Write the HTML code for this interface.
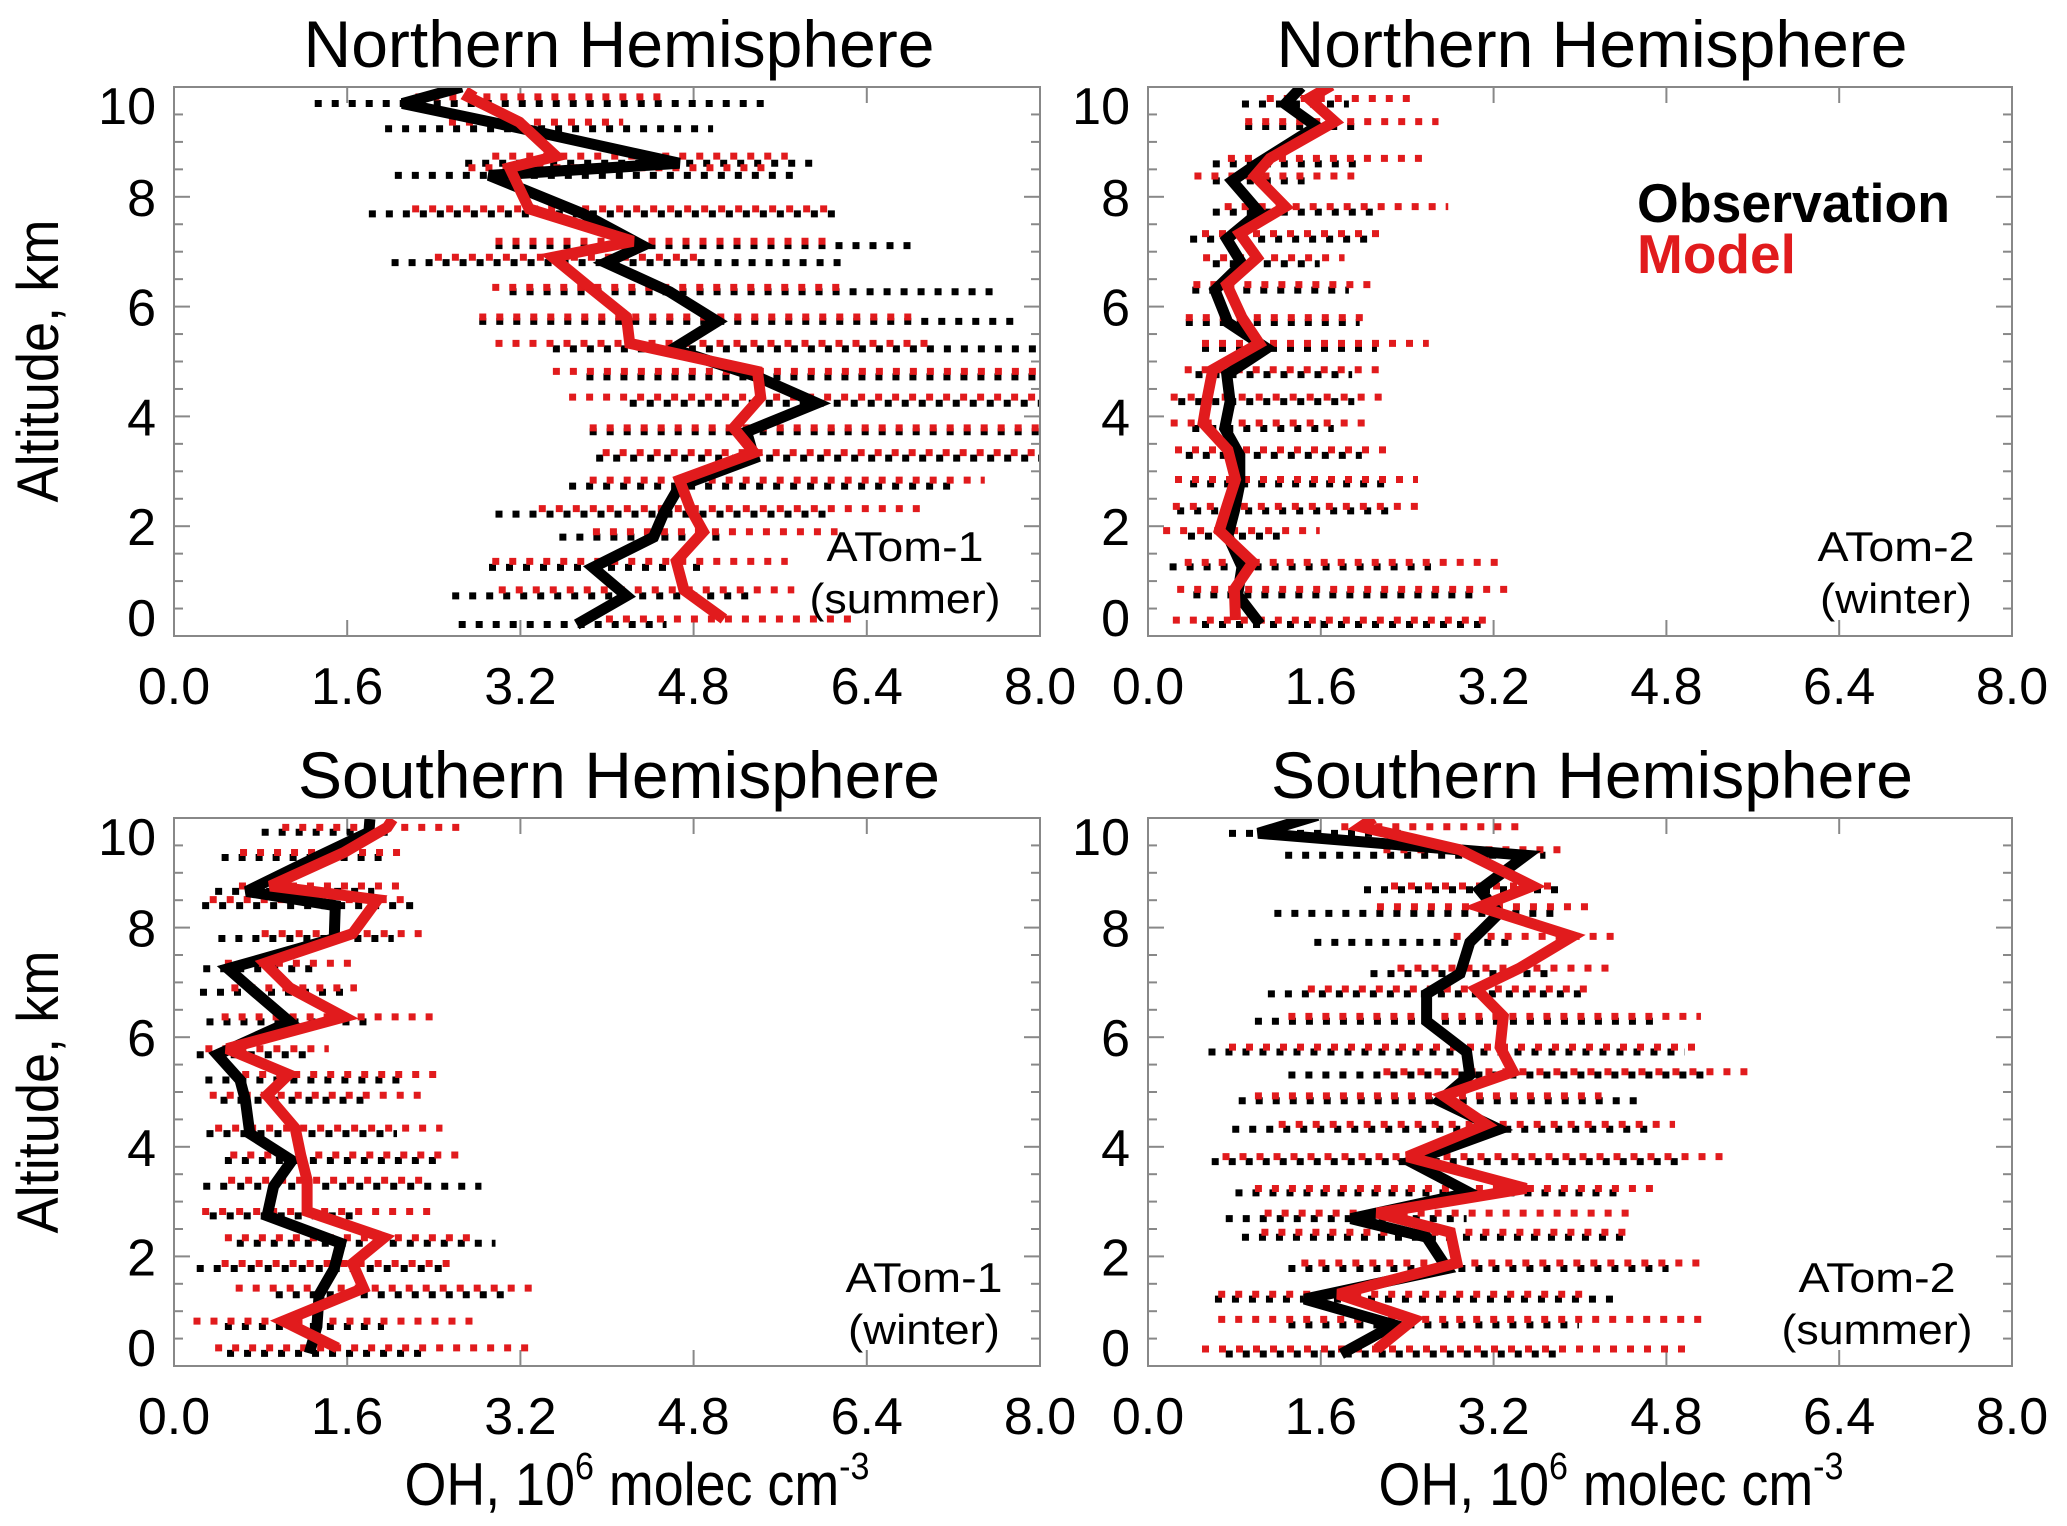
<!DOCTYPE html>
<html><head><meta charset="utf-8"><style>
html,body{margin:0;padding:0;background:#fff;}
svg{display:block;font-family:"Liberation Sans",Arial,sans-serif;}
</style></head><body>
<svg id="chart" width="2067" height="1526" viewBox="0 0 2067 1526" xmlns="http://www.w3.org/2000/svg"></svg>
<script>
// ---------- data: Northern Hemisphere, ATom-1 (summer) ----------
const tlObsAlt  = [10.0,9.70,9.24,8.61,8.39,7.69,7.11,6.80,6.27,5.73,5.23,4.72,4.24,3.72,3.24,2.73,2.22,1.80,1.25,0.73,0.21];
const tlObsMean = [2.66,2.11,3.22,4.67,2.91,3.78,4.33,3.99,4.58,5.02,4.61,5.39,5.94,5.29,5.36,4.67,4.52,4.43,3.87,4.18,3.72];
const tlObsLo   = [null,1.30,1.95,2.69,2.04,1.80,2.97,2.01,3.10,2.82,3.50,3.81,4.21,3.84,3.90,3.65,2.97,3.56,2.91,2.57,2.63];
const tlObsHi   = [null,5.51,4.98,5.94,5.76,6.16,6.81,6.19,7.62,7.77,8.50,8.50,8.50,8.50,8.50,7.24,6.07,5.08,4.86,5.36,4.55];
const tlModAlt  = [9.95,9.82,9.36,8.74,8.53,7.78,7.19,6.90,6.35,5.81,5.33,4.82,4.35,3.79,3.34,2.84,2.32,1.90,1.36,0.84,0.31];
const tlModMean = [2.76,2.72,3.19,3.53,3.10,3.28,4.24,3.50,3.84,4.18,4.21,5.39,5.42,5.17,5.36,4.67,4.77,4.89,4.64,4.71,5.08];
const tlModLo   = [null,2.23,2.54,2.94,2.72,2.20,2.97,2.41,2.94,2.82,2.97,3.50,3.65,3.84,3.96,3.84,3.37,3.87,2.94,3.00,3.99];
const tlModHi   = [null,4.58,4.15,5.67,5.51,6.07,6.07,4.86,6.19,6.87,7.03,8.50,8.50,8.50,8.50,7.49,6.93,6.13,5.67,5.73,6.32];
// ---------- Northern Hemisphere, ATom-2 (winter) ----------
const trObsAlt  = [10.0,9.69,9.28,8.60,8.29,7.72,7.23,6.78,6.30,5.71,5.24,4.76,4.27,3.78,3.29,2.77,2.28,1.82,1.26,0.75,0.21];
const trObsMean = [1.42,1.27,1.56,1.01,0.78,1.03,0.73,0.87,0.62,0.74,1.10,0.73,0.76,0.71,0.85,0.85,0.80,0.74,0.87,0.83,1.04];
const trObsLo   = [null,0.87,0.90,0.60,0.60,0.60,0.39,0.60,0.41,0.35,0.50,0.44,0.28,0.41,0.35,0.39,0.27,0.37,0.20,0.42,0.50];
const trObsHi   = [null,1.86,1.96,1.93,1.45,2.09,2.04,1.59,1.86,1.96,2.12,1.89,1.91,1.72,1.98,2.20,2.23,1.22,2.62,3.01,3.08];
const trModAlt  = [10.03,9.79,9.37,8.70,8.38,7.82,7.33,6.89,6.40,5.80,5.33,4.85,4.35,3.88,3.39,2.85,2.36,1.92,1.34,0.85,0.29];
const trModMean = [1.70,1.49,1.73,1.13,0.99,1.27,0.85,1.01,0.73,0.87,1.03,0.60,0.55,0.51,0.74,0.81,0.73,0.66,0.97,0.80,0.81];
const trModLo   = [null,1.10,0.90,0.74,0.43,0.71,0.50,0.51,0.42,0.35,0.50,0.34,0.21,0.21,0.25,0.25,0.23,0.14,0.34,0.27,0.23];
const trModHi   = [null,2.44,2.69,2.55,1.91,2.78,2.14,1.82,2.07,2.02,2.60,2.14,2.20,2.02,2.23,2.50,2.53,1.59,3.26,3.35,3.17];
// ---------- Southern Hemisphere, ATom-1 (winter) ----------
const blObsAlt  = [9.98,9.74,9.28,8.66,8.40,7.80,7.25,6.82,6.28,5.68,5.22,4.85,4.24,3.75,3.28,2.74,2.24,1.78,1.30,0.72,0.23];
const blObsMean = [1.81,1.80,1.31,0.67,1.49,1.48,0.50,0.75,1.07,0.40,0.61,0.66,0.70,1.09,0.92,0.86,1.54,1.48,1.34,1.32,1.25];
const blObsLo   = [null,0.81,0.44,0.38,0.26,0.41,0.27,0.24,0.30,0.21,0.29,0.43,0.30,0.47,0.27,0.33,0.58,0.21,0.94,0.47,0.49];
const blObsHi   = [null,1.99,1.94,1.85,2.23,2.03,1.29,1.57,1.79,1.23,2.09,1.75,2.06,2.43,2.84,1.65,2.97,2.50,3.05,1.94,2.31];
const blModAlt  = [9.98,9.83,9.37,8.76,8.51,7.89,7.35,6.90,6.37,5.79,5.32,4.94,4.34,3.85,3.39,2.82,2.34,1.87,1.42,0.82,0.33];
const blModMean = [2.02,1.97,1.57,0.89,1.88,1.65,0.84,1.07,1.57,0.49,1.06,0.86,1.12,1.17,1.23,1.23,1.94,1.65,1.75,1.01,1.51];
const blModLo   = [null,1.00,0.61,0.60,0.33,0.81,0.47,0.53,0.44,0.29,0.63,0.33,0.38,0.52,0.50,0.26,0.47,0.44,0.57,0.18,0.38];
const blModHi   = [null,2.68,2.11,2.08,2.16,2.31,1.65,1.69,2.43,1.43,2.43,2.30,2.48,2.65,2.34,2.39,2.76,2.59,3.33,2.79,3.28];
// ---------- Southern Hemisphere, ATom-2 (summer) ----------
const brObsAlt  = [10.05,9.72,9.32,8.69,8.26,7.73,7.16,6.79,6.29,5.73,5.31,4.84,4.32,3.73,3.16,2.69,2.35,1.78,1.22,0.75,0.22];
const brObsMean = [1.57,1.02,3.50,3.07,3.25,2.98,2.89,2.58,2.58,2.95,2.98,2.70,3.25,2.43,2.98,1.88,2.58,2.77,1.45,2.28,1.79];
const brObsLo   = [null,0.75,1.27,2.00,1.17,1.54,2.06,1.11,0.99,0.56,1.30,0.84,0.78,0.59,0.81,0.72,0.87,1.30,0.62,1.30,0.72];
const brObsHi   = [null,2.34,3.68,3.81,3.81,3.38,3.75,4.05,4.73,4.97,5.18,4.54,4.66,4.91,4.39,2.95,4.45,4.82,4.33,3.99,3.81];
const brModAlt  = [10.0,9.84,9.42,8.76,8.38,7.84,7.26,6.88,6.38,5.82,5.37,4.93,4.41,3.82,3.24,2.79,2.44,1.88,1.31,0.85,0.31];
const brModMean = [2.09,1.97,2.89,3.56,3.07,3.93,3.44,3.04,3.29,3.26,3.38,2.74,3.13,2.40,3.50,2.12,2.80,2.86,1.76,2.46,2.12];
const brModLo   = [null,1.79,2.18,2.25,2.12,2.83,2.31,1.48,1.30,0.75,2.18,0.99,1.21,0.69,0.99,1.08,1.05,1.42,0.65,0.65,0.50];
const brModHi   = [null,3.44,3.84,3.78,4.11,4.33,4.30,4.11,5.12,5.15,5.55,4.20,4.88,5.34,4.72,4.48,4.45,5.15,4.02,5.15,5.03];
// ---------- axis ticks ----------
const xTickVals   = [0, 1.6, 3.2, 4.8, 6.4, 8.0];
const xTickLabels = ["0.0","1.6","3.2","4.8","6.4","8.0"];
const yTickVals   = [0, 2, 4, 6, 8, 10];
const yTickLabels = ["0","2","4","6","8","10"];

const NS = "http://www.w3.org/2000/svg";
const svg = document.getElementById("chart");
function mk(tag, attrs, parent) {
  const e = document.createElementNS(NS, tag);
  for (const k in attrs) e.setAttribute(k, attrs[k]);
  (parent || svg).appendChild(e);
  return e;
}
const RED = "#e11b1d";
const panels = [
  {key:"nh-atom1", x0:174, x1:1040, y0:87, y1:636, title:"Northern Hemisphere", a1:"ATom-1", a2:"(summer)", ac:135, l2:191, showYTitle:true, showXTitle:false,
   oa:tlObsAlt, om:tlObsMean, ol:tlObsLo, oh:tlObsHi, ma:tlModAlt, mm:tlModMean, ml:tlModLo, mh:tlModHi},
  {key:"nh-atom2", x0:1148, x1:2012, y0:87, y1:636, title:"Northern Hemisphere", a1:"ATom-2", a2:"(winter)", ac:116, l2:152, showYTitle:false, showXTitle:false,
   oa:trObsAlt, om:trObsMean, ol:trObsLo, oh:trObsHi, ma:trModAlt, mm:trModMean, ml:trModLo, mh:trModHi},
  {key:"sh-atom1", x0:174, x1:1040, y0:818, y1:1366, title:"Southern Hemisphere", a1:"ATom-1", a2:"(winter)", ac:116, l2:152, showYTitle:true, showXTitle:true,
   oa:blObsAlt, om:blObsMean, ol:blObsLo, oh:blObsHi, ma:blModAlt, mm:blModMean, ml:blModLo, mh:blModHi},
  {key:"sh-atom2", x0:1148, x1:2012, y0:818, y1:1366, title:"Southern Hemisphere", a1:"ATom-2", a2:"(summer)", ac:135, l2:191, showYTitle:false, showXTitle:true,
   oa:brObsAlt, om:brObsMean, ol:brObsLo, oh:brObsHi, ma:brModAlt, mm:brModMean, ml:brModLo, mh:brModHi}
];

panels.forEach((p, pi) => {
  const xs = v => p.x0 + (v / 8) * (p.x1 - p.x0);
  const ys = a => p.y1 - (a / 10) * (p.y1 - p.y0);
  const g = mk("g", {});
  
  

  const cp = mk("clipPath", {id:"clip" + pi}, g);
  mk("rect", {x:p.x0, y:p.y0, width:p.x1 - p.x0, height:p.y1 - p.y0}, cp);

  const t = mk("text", {x:(p.x0 + p.x1) / 2 + 12, y:p.y0 - 20, "font-size":66, "text-anchor":"middle", fill:"#000"}, g);
  t.textContent = p.title;
  
  

  const tk = mk("g", {stroke:"#888", "stroke-width":2}, g);
  
  
  for (let i = 1; i < 20; i++) {
    const a = i * 0.5, major = (i % 4 === 0);
    const L = major ? 16 : 9;
    mk("line", {x1:p.x0, x2:p.x0 + L, y1:ys(a), y2:ys(a)}, tk);
    mk("line", {x1:p.x1, x2:p.x1 - L, y1:ys(a), y2:ys(a)}, tk);
  }
  xTickVals.forEach(v => {
    mk("line", {x1:xs(v), x2:xs(v), y1:p.y1, y2:p.y1 - 16}, tk);
    mk("line", {x1:xs(v), x2:xs(v), y1:p.y0, y2:p.y0 + 16}, tk);
  });

  const dg = mk("g", {"clip-path":"url(#clip" + pi + ")"}, g);
  function bars(alt, lo, hi, color, name) {
    const bg = mk("g", {stroke:color, "stroke-width":7, "stroke-dasharray":"7 10", fill:"none"}, dg);
    
    
    alt.forEach((a, i) => {
      if (lo[i] == null) return;
      const l = mk("line", {x1:xs(lo[i]), x2:xs(hi[i]), y1:ys(a), y2:ys(a)}, bg);
      
      
    });
  }
  bars(p.oa, p.ol, p.oh, "#000", "observation-ranges");
  bars(p.ma, p.ml, p.mh, RED, "model-ranges");
  function line(alt, mean, color, name) {
    const pts = alt.map((a, i) => xs(mean[i]).toFixed(1) + "," + ys(a).toFixed(1)).join(" ");
    const pl = mk("polyline", {points:pts, fill:"none", stroke:color, "stroke-width":11, "stroke-linejoin":"miter", "stroke-miterlimit":3}, dg);
    
    
  }
  line(p.oa, p.om, "#000", "observation-line");
  line(p.ma, p.mm, RED, "model-line");

  const fr = mk("rect", {x:p.x0, y:p.y0, width:p.x1 - p.x0, height:p.y1 - p.y0, fill:"none", stroke:"#888", "stroke-width":2}, g);
  
  

  xTickVals.forEach((v, i) => {
    const tl = mk("text", {x:xs(v), y:p.y1 + 68, "font-size":52, "text-anchor":"middle"}, g);
    tl.textContent = xTickLabels[i];
    
    
  });
  yTickVals.forEach((v, i) => {
    let yy = ys(v) + 19;
    if (v === 10) yy += 18;
    if (v === 0) yy -= 19;
    const tl = mk("text", {x:p.x0 - 18, y:yy, "font-size":52, "text-anchor":"end"}, g);
    tl.textContent = yTickLabels[i];
    
    
  });

  const ax = p.x1 - p.ac;
  const a1 = mk("text", {x:ax, y:p.y0 + 474, "font-size":42, "text-anchor":"middle", textLength:157, lengthAdjust:"spacingAndGlyphs"}, g);
  a1.textContent = p.a1;
  
  
  const a2 = mk("text", {x:ax, y:p.y0 + 526, "font-size":42, "text-anchor":"middle", textLength:p.l2, lengthAdjust:"spacingAndGlyphs"}, g);
  a2.textContent = p.a2;
  
  

  if (p.showYTitle) {
    const cy = p.y0 + 274;
    const yt = mk("text", {x:0, y:0, "font-size":58, "text-anchor":"middle", textLength:283, lengthAdjust:"spacingAndGlyphs",
      transform:"translate(58," + cy + ") rotate(-90)"}, g);
    yt.textContent = "Altitude, km";
    
    
  }
  if (p.showXTitle) {
    const cx = p.x0 + 463;
    const xt = mk("text", {x:cx, y:1505, "font-size":60, "text-anchor":"middle", textLength:465, lengthAdjust:"spacingAndGlyphs"}, g);
    xt.innerHTML = 'OH, 10<tspan dy="-26" font-size="38">6</tspan><tspan dy="26"> molec cm</tspan><tspan dy="-26" font-size="38">-3</tspan>';
    
    
  }
});

const lg = mk("g", {"font-weight":"bold", "font-size":55});


const l1 = mk("text", {x:1637, y:222, fill:"#000", textLength:313, lengthAdjust:"spacingAndGlyphs"}, lg);
l1.textContent = "Observation";


const l2 = mk("text", {x:1637, y:273, fill:RED}, lg);
l2.textContent = "Model";


</script>
</body></html>
